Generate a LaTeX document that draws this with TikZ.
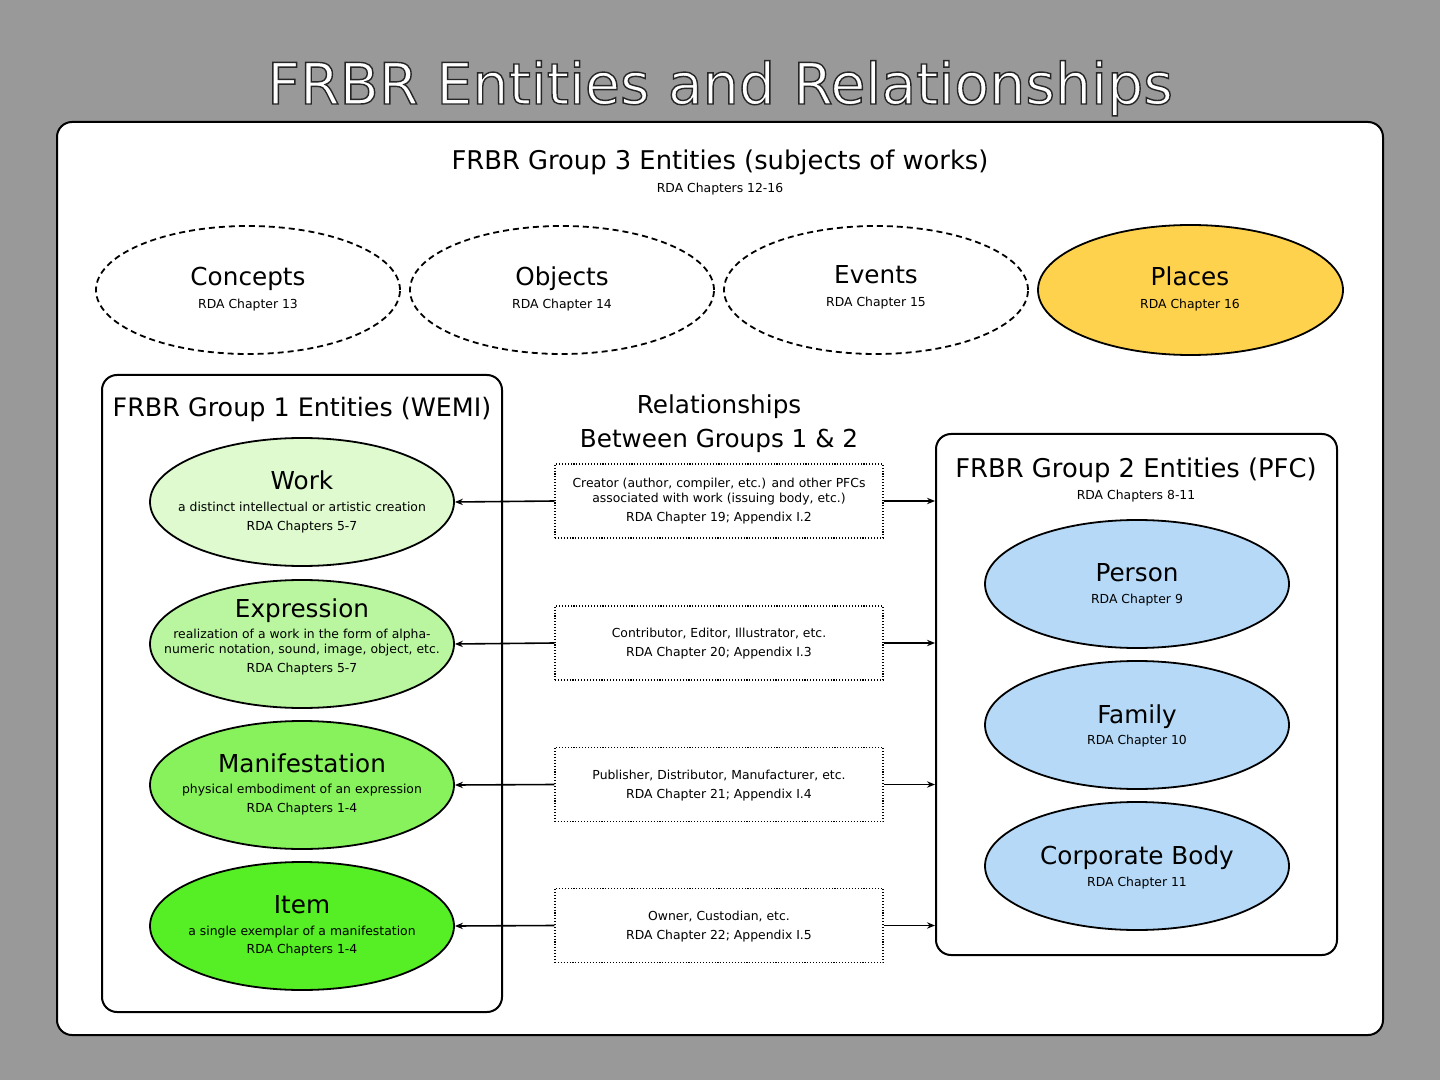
\documentclass[tikz,border=0pt]{standalone}
\usepackage{fontspec}
\setmainfont{DejaVu Sans}
\usetikzlibrary{shapes.geometric,arrows.meta}
\definecolor{bggray}{HTML}{999999}
\definecolor{placesfill}{RGB}{255,210,77}
\definecolor{pfcfill}{RGB}{181,217,246}
\definecolor{workfill}{RGB}{222,250,206}
\definecolor{exprfill}{RGB}{186,246,160}
\definecolor{manifill}{RGB}{136,242,92}
\definecolor{itemfill}{RGB}{86,238,36}
\tikzset{
  frame/.style={draw=black, line width=1pt, fill=white, rounded corners=7.5pt, inner sep=0pt},
  ell/.style={ellipse, draw=black, line width=0.9pt, minimum width=152pt, minimum height=64pt, inner sep=0pt},
  dell/.style={ell, dash pattern=on 3pt off 2pt, fill=white},
  relbox/.style={draw=black, line width=0.55pt, dash pattern=on 0.55pt off 0.9pt, minimum width=164pt, minimum height=37pt, inner sep=0pt, fill=white},
  big/.style={anchor=base, font=\fontsize{12.35}{14}\selectfont, inner sep=0pt},
  small/.style={anchor=base, font=\fontsize{6.2}{7.5}\selectfont, inner sep=0pt},
  grp/.style={anchor=base, font=\fontsize{12.9}{15}\selectfont, inner sep=0pt},
  ttl/.style={anchor=base, font=\fontsize{28.5}{32}\selectfont, inner sep=0pt},
  conn/.style={line width=0.8pt, -{Stealth[length=4pt,width=3.2pt]}},
}
\begin{document}
\begin{tikzpicture}[x=0.5pt,y=-0.5pt]
\fill[bggray] (0,0) rectangle (1440,1080);
\useasboundingbox (0,0) rectangle (1440,1080);

% main title: white letters with a thin dark outline
\node[ttl, text=white] (title) at (720,104) {\special{pdf:literal direct 2 Tr 0.15 0.15 0.15 RG 0.7 w}FRBR Entities and Relationships\special{pdf:literal direct 0 Tr}};

% outer frame
\node[frame, minimum width=663pt, minimum height=456.5pt] (outer) at (720,578.5) {};

% group 3
\node[grp] (g3t) at (720,170) {FRBR Group 3 Entities (subjects of works)};
\node[small] (g3s) at (720,192.5) {RDA Chapters 12-16};

\node[dell] (concepts) at (248,290) {};
\node[big] (conceptsT) at (248,286) {Concepts};
\node[small] (conceptsS) at (248,309) {RDA Chapter 13};

\node[dell] (objects) at (562,290) {};
\node[big] (objectsT) at (562,286) {Objects};
\node[small] (objectsS) at (562,309) {RDA Chapter 14};

\node[dell] (events) at (876,290) {};
\node[big] (eventsT) at (876,284) {Events};
\node[small] (eventsS) at (876,307) {RDA Chapter 15};

\node[ell, fill=placesfill, minimum width=152.5pt, minimum height=65pt] (places) at (1190.5,290) {};
\node[big] (placesT) at (1190,286) {Places};
\node[small] (placesS) at (1190,309) {RDA Chapter 16};

% group 1
\node[frame, minimum width=200pt, minimum height=318.5pt] (g1) at (302,693.5) {};
\node[anchor=base, font=\fontsize{12.7}{15}\selectfont, inner sep=0pt] (g1t) at (302,417) {FRBR Group 1 Entities (WEMI)};

\node[ell, fill=workfill] (work) at (302,502) {};
\node[big] (workT) at (302,489) {Work};
\node[small] (workD) at (302,511.5) {a distinct intellectual or artistic creation};
\node[small] (workS) at (302,530.5) {RDA Chapters 5-7};

\node[ell, fill=exprfill] (expr) at (302,644) {};
\node[big] (exprT) at (302,617) {Expression};
\node[small] (exprD1) at (302,638.5) {realization of a work in the form of alpha-};
\node[small] (exprD2) at (302,653.5) {numeric notation, sound, image, object, etc.};
\node[small] (exprS) at (302,672.5) {RDA Chapters 5-7};

\node[ell, fill=manifill] (mani) at (302,785) {};
\node[big] (maniT) at (302,772) {Manifestation};
\node[small] (maniD) at (302,793.5) {physical embodiment of an expression};
\node[small] (maniS) at (302,812.5) {RDA Chapters 1-4};

\node[ell, fill=itemfill] (item) at (302,926) {};
\node[big] (itemT) at (302,913) {Item};
\node[small] (itemD) at (302,935.5) {a single exemplar of a manifestation};
\node[small] (itemS) at (302,953.5) {RDA Chapters 1-4};

% relationships
\node[big] (relT1) at (719,414) {Relationships};
\node[big] (relT2) at (719,447) {Between Groups 1 \& 2};

\node[relbox] (rel1) at (719,501) {};
\node[small] (rel1a) at (719,487.5) {Creator (author, compiler, etc.) and other PFCs};
\node[small] (rel1b) at (719,502.5) {associated with work (issuing body, etc.)};
\node[small] (rel1c) at (719,521.5) {RDA Chapter 19; Appendix I.2};

\node[relbox] (rel2) at (719,643) {};
\node[small] (rel2a) at (719,637.5) {Contributor, Editor, Illustrator, etc.};
\node[small] (rel2b) at (719,656.5) {RDA Chapter 20; Appendix I.3};

\node[relbox] (rel3) at (719,784.5) {};
\node[small] (rel3a) at (719,779.5) {Publisher, Distributor, Manufacturer, etc.};
\node[small] (rel3b) at (719,798.5) {RDA Chapter 21; Appendix I.4};

\node[relbox] (rel4) at (719,925.5) {};
\node[small] (rel4a) at (719,920.5) {Owner, Custodian, etc.};
\node[small] (rel4b) at (719,939.5) {RDA Chapter 22; Appendix I.5};

% group 2
\node[frame, minimum width=200.5pt, minimum height=260.5pt] (g2) at (1136.5,694.5) {};
\node[grp] (g2t) at (1136,477) {FRBR Group 2 Entities (PFC)};
\node[small] (g2s) at (1136,499.5) {RDA Chapters 8-11};

\node[ell, fill=pfcfill] (person) at (1137,584) {};
\node[big] (personT) at (1137,581) {Person};
\node[small] (personS) at (1137,603.5) {RDA Chapter 9};

\node[ell, fill=pfcfill] (family) at (1137,725) {};
\node[big] (familyT) at (1137,723) {Family};
\node[small] (familyS) at (1137,744.5) {RDA Chapter 10};

\node[ell, fill=pfcfill] (corp) at (1137,866) {};
\node[big] (corpT) at (1137,864) {Corporate Body};
\node[small] (corpS) at (1137,886.5) {RDA Chapter 11};

% connectors
\draw[conn] (rel1.west) -- (work.east);
\draw[conn] (rel2.west) -- (expr.east);
\draw[conn] (rel3.west) -- (mani.east);
\draw[conn] (rel4.west) -- (item.east);
\draw[conn] (rel1.east) -- (g2.west |- rel1.east);
\draw[conn] (rel2.east) -- (g2.west |- rel2.east);
\draw[conn] (rel3.east) -- (g2.west |- rel3.east);
\draw[conn] (rel4.east) -- (g2.west |- rel4.east);
\end{tikzpicture}
\end{document}
